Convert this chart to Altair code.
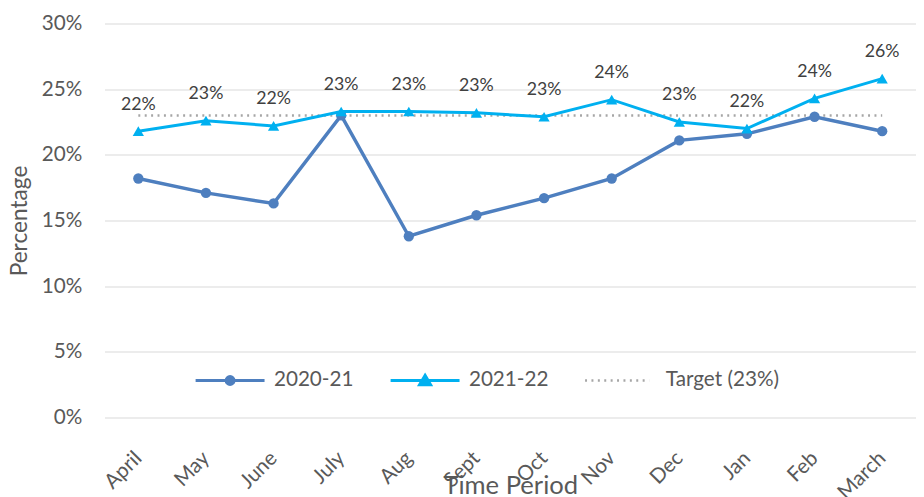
import altair as alt
import pandas as pd

# ---- data ----
months = ["April", "May", "June", "July", "Aug", "Sept", "Oct", "Nov", "Dec", "Jan", "Feb", "March"]
values_2020_21 = [18.2, 17.1, 16.3, 23.0, 13.8, 15.4, 16.7, 18.2, 21.1, 21.6, 22.9, 21.8]
values_2021_22 = [21.8, 22.6, 22.2, 23.3, 23.3, 23.2, 22.9, 24.2, 22.5, 22.0, 24.3, 25.8]
labels_2021_22 = ["22%", "23%", "22%", "23%", "23%", "23%", "23%", "24%", "23%", "22%", "24%", "26%"]
target_value = 23.0
series_names = ["2020-21", "2021-22", "Target (23%)"]
y_ticks = [0, 5, 10, 15, 20, 25, 30]

# ---- styles ----
C1 = "#4E7FBF"
C2 = "#00B0F0"
CG = "#A6A6A6"
TXT = "#595959"
FONT = "Lato"

df1 = pd.DataFrame({"month": months, "value": [v / 100 for v in values_2020_21],
                    "series": series_names[0]})
df2 = pd.DataFrame({"month": months, "value": [v / 100 for v in values_2021_22],
                    "label": labels_2021_22, "series": series_names[1]})
dft = pd.DataFrame({"t": [target_value / 100], "series": [series_names[2]]})

circle_path = "M-1,0H1M0.115,0A0.115,0.115,0,1,1,-0.115,0A0.115,0.115,0,1,1,0.115,0Z"
tri_path = "M-1,0H1M0,-0.15L0.16,0.12L-0.16,0.12Z"
line_path = "M-0.93,0H0.93"

LEG_Y = 326


def leg(x, shape, fill, stroke, width, dash=None, offset=8):
    kw = dict(
        orient="none", legendX=x, legendY=LEG_Y, direction="horizontal",
        title=None, symbolType=shape, symbolSize=4900,
        symbolStrokeWidth=width, symbolFillColor=fill, symbolStrokeColor=stroke,
        symbolOpacity=1, labelFont=FONT, labelFontSize=21, labelColor=TXT,
        labelOffset=offset,
    )
    if dash is not None:
        kw["symbolDash"] = dash
    return alt.Legend(**kw)


x_enc = alt.X(
    "month:N",
    sort=months,
    scale=alt.Scale(type="point", domain=months, padding=0.5),
    axis=alt.Axis(
        labelAngle=315, labelFontSize=21, labelColor=TXT, labelPadding=38,
        ticks=False, domain=False, grid=False,
        title="Time Period", titleX=412, titleY=77, titleFontSize=26,
        titleFontWeight="normal", titleColor=TXT, titleBaseline="alphabetic",
    ),
)
y_enc = alt.Y(
    "value:Q",
    scale=alt.Scale(domain=[0, 0.30], nice=False, zero=True),
    axis=alt.Axis(
        values=[t / 100 for t in y_ticks], format=".0%", labelFontSize=21,
        labelColor=TXT, labelPadding=23, ticks=False, domain=False,
        gridColor="#E6E6E6", gridWidth=1.5,
        title="Percentage", titleX=-79, titleY=200, titleAngle=270,
        titleFontSize=23, titleFontWeight="normal", titleColor=TXT,
        titleBaseline="alphabetic",
    ),
)

target = alt.Chart(dft).mark_rule(strokeWidth=2.5, color=CG).encode(
    x=alt.datum(months[0]),
    x2=alt.datum(months[-1]),
    y=alt.Y("t:Q"),
    strokeDash=alt.StrokeDash(
        "series:N",
        scale=alt.Scale(domain=[series_names[2]], range=[[2, 4.5]]),
        legend=leg(484, line_path, "transparent", CG, 2.5, [2, 4.5], offset=13),
    ),
)

line1 = alt.Chart(df1).mark_line(strokeWidth=3.5).encode(
    x=x_enc, y=y_enc,
    color=alt.Color(
        "series:N",
        scale=alt.Scale(domain=[series_names[0]], range=[C1]),
        legend=leg(91, circle_path, C1, C1, 3),
    ),
)
pts1 = alt.Chart(df1).mark_point(
    shape="circle", filled=True, size=110, opacity=1, color=C1
).encode(x=alt.X("month:N", sort=months), y="value:Q")

line2 = alt.Chart(df2).mark_line(strokeWidth=3).encode(
    x=alt.X("month:N", sort=months), y="value:Q",
    stroke=alt.Stroke(
        "series:N",
        scale=alt.Scale(domain=[series_names[1]], range=[C2]),
        legend=leg(289, tri_path, C2, C2, 3),
    ),
)
pts2 = alt.Chart(df2).mark_point(
    shape="triangle-up", filled=True, size=130, opacity=1, color=C2
).encode(x=alt.X("month:N", sort=months), y="value:Q")

texts = alt.Chart(df2).mark_text(
    dy=-27, fontSize=18, color="#404040", font=FONT, baseline="middle"
).encode(x=alt.X("month:N", sort=months), y="value:Q", text="label:N")

chart = alt.layer(target, line1, pts1, line2, pts2, texts).resolve_legend(
    color="independent", stroke="independent", strokeDash="independent"
).properties(
    width=824,
    height=400,
    autosize=alt.AutoSizeParams(type="none"),
    padding={"left": 98, "top": 12, "right": 0, "bottom": 77},
).configure(font=FONT).configure_view(stroke=None)

chart.save("out.html", embed_options={"renderer": "svg", "actions": False})
